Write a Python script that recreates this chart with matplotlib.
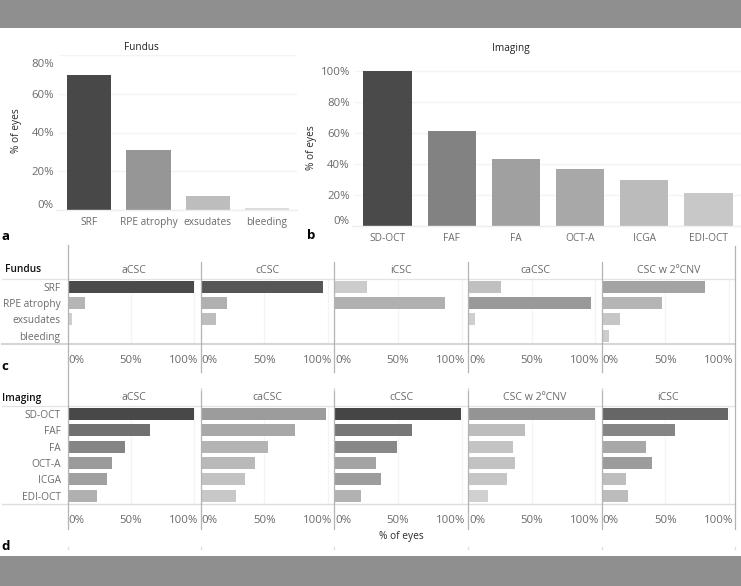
import matplotlib
matplotlib.use("Agg")
import matplotlib.pyplot as plt
from matplotlib.lines import Line2D
from matplotlib.patches import Rectangle
from matplotlib.transforms import Affine2D

plt.rcParams['font.family'] = ['Open Sans', 'DejaVu Sans']

# ---------- data ----------
fundus_cats = ['SRF', 'RPE atrophy', 'exsudates', 'bleeding']
fundus_vals = [69.5, 31, 7.2, 1.0]
imaging_cats = ['SD-OCT', 'FAF', 'FA', 'OCT-A', 'ICGA', 'EDI-OCT']
imaging_vals = [100, 61, 43, 37, 30, 21]

c_facets = ['aCSC', 'cCSC', 'iCSC', 'caCSC', 'CSC w 2ºCNV']
c_aCSC = [100, 13.6, 3.4, 0]
c_cCSC = [96, 20.5, 12, 1]
c_iCSC = [25.5, 87, 0, 0]
c_caCSC = [26, 96.4, 5, 0]
c_CNV = [81.4, 47.8, 14.7, 6]
c_values = [c_aCSC, c_cCSC, c_iCSC, c_caCSC, c_CNV]

d_facets = ['aCSC', 'caCSC', 'cCSC', 'CSC w 2ºCNV', 'iCSC']
d_aCSC = [100, 65, 45, 35, 31, 23]
d_caCSC = [98.5, 74.5, 52.5, 43, 34.5, 28]
d_cCSC = [99.5, 61, 49, 33, 37, 21]
d_CNV = [100, 44.5, 35, 37, 30.5, 15.5]
d_iCSC = [99.5, 57.5, 35, 40, 19, 20.5]
d_values = [d_aCSC, d_caCSC, d_cCSC, d_CNV, d_iCSC]

# ---------- styles ----------
a_colors = ['#484848', '#969696', '#bdbdbd', '#dcdcdc']
b_colors = ['#4a4a4a', '#828282', '#a0a0a0', '#a8a8a8', '#bbbbbb', '#c8c8c8']
c_colors = [
    ['#4a4a4a', '#b5b5b5', '#cfcfcf', '#ffffff'],
    ['#565656', '#b0b0b0', '#bdbdbd', '#c8c8c8'],
    ['#cccccc', '#b0b0b0', '#ffffff', '#ffffff'],
    ['#c0c0c0', '#999999', '#cfcfcf', '#ffffff'],
    ['#a3a3a3', '#b5b5b5', '#c6c6c6', '#cccccc'],
]
d_colors = [
    ['#484848', '#707070', '#858585', '#9a9a9a', '#a0a0a0', '#b0b0b0'],
    ['#9c9c9c', '#a8a8a8', '#b4b4b4', '#b9b9b9', '#c2c2c2', '#c8c8c8'],
    ['#454545', '#777777', '#888888', '#a3a3a3', '#9d9d9d', '#b2b2b2'],
    ['#949494', '#bdbdbd', '#c4c4c4', '#c2c2c2', '#c6c6c6', '#d0d0d0'],
    ['#666666', '#858585', '#a8a8a8', '#9c9c9c', '#bebebe', '#bcbcbc'],
]
TXT = '#6a6a6a'
DARK = '#2a2a2a'
GRID = '#f4f4f4'
RULE = '#dcdcdc'
VLINE = '#b4b4b4'
FS = 7.3
NUM_FS = 8.2

W, H = 741, 586
fig = plt.figure(figsize=(W / 100, H / 100), dpi=100, facecolor='white')


def px_axes(x0, y0, x1, y1):
    ax = fig.add_axes([x0 / W, 1 - y1 / H, (x1 - x0) / W, (y1 - y0) / H])
    ax.set_facecolor('none')
    for s in ax.spines.values():
        s.set_visible(False)
    ax.tick_params(length=0, colors=TXT, labelsize=FS)
    ax.set_axisbelow(True)
    return ax


def shift(label, dx=0, dy=0):
    label.set_transform(label.get_transform() + Affine2D().translate(dx, dy))


def hline(x0, x1, y, color=RULE, lw=1.0):
    fig.add_artist(Line2D([x0 / W, x1 / W], [1 - y / H, 1 - y / H], color=color, lw=lw,
                          transform=fig.transFigure))


def vline(x, y0, y1, color=VLINE, lw=0.9):
    fig.add_artist(Line2D([x / W, x / W], [1 - y0 / H, 1 - y1 / H], color=color, lw=lw,
                          transform=fig.transFigure))


def ftext(x, y, s, **kw):
    fig.text(x / W, 1 - y / H, s, va='center', **kw)


# grey bands
for y0, y1 in [(0, 28), (556, 586)]:
    fig.add_artist(Rectangle((0, 1 - y1 / H), 1, (y1 - y0) / H, color='#8f8f8f', lw=0,
                             transform=fig.transFigure))


def column_panel(box, cats, vals, colors, ylim, yticks, yshift, title, title_y, title_x, ylab_x, ylab_y, grid_x):
    ax = px_axes(*box)
    xs = list(range(len(cats)))
    ax.bar(xs, vals, width=0.75, color=colors, zorder=3)
    ax.set_xlim(-0.5, len(cats) - 0.5)
    ax.set_ylim(0, ylim)
    ax.set_xticks(xs)
    ax.set_xticklabels(cats)
    ax.set_yticks(yticks)
    ax.set_yticklabels([f'{t}%' for t in yticks])
    ax.tick_params(axis='x', pad=5)
    ax.tick_params(axis='y', pad=4, labelsize=NUM_FS)
    ax.yaxis.grid(True, color=GRID, lw=1.0, zorder=0)
    for lab, dy in zip(ax.get_yticklabels(), yshift):
        shift(lab, 0, dy)
    hline(grid_x, box[2], box[3], color='#eeeeee', lw=1.0)
    ftext(title_x, title_y, title, ha='center', fontsize=FS, color='#222222')
    ftext(ylab_x, ylab_y, '% of eyes', ha='center', rotation=90, fontsize=FS, color=DARK)
    return ax


column_panel((59.5, 55, 296.7, 210), fundus_cats, fundus_vals, a_colors, 80,
             [0, 20, 40, 60, 80], [6, 0, 0, 0, -8], 'Fundus', 47.5, 141, 16, 131, 56)
column_panel((355.4, 58, 740.6, 226), imaging_cats, imaging_vals, b_colors, 108.4,
             [0, 20, 40, 60, 80, 100], [6, 0, 0, 0, 0, 0], 'Imaging', 48.5, 511, 311.5, 148, 352)

edges = [67.5, 200.7, 334.3, 468.2, 601.6, 735.2]


def facet_panel(top, bottom, cats, facets, values, colors):
    n = len(cats)
    for i, (name, vals, cols) in enumerate(zip(facets, values, colors)):
        ax = px_axes(edges[i], top, edges[i + 1], bottom)
        ax.barh(range(n), vals, height=0.73, color=cols, zorder=3)
        ax.set_ylim(n - 0.5, -0.5)
        ax.set_xlim(0, 105)
        ax.set_xticks([0, 50, 100])
        ax.set_xticklabels(['0%', '50%', '100%'])
        ax.xaxis.grid(True, color=GRID, lw=0.9, zorder=0)
        ax.tick_params(axis='x', pad=8, labelsize=NUM_FS)
        labs = ax.get_xticklabels()
        labs[0].set_ha('left')
        shift(labs[0], 1.0, 0)
        labs[2].set_ha('right')
        shift(labs[2], 4, 0)
        ax.set_title(name, fontsize=FS + 0.3, color=TXT, pad=4)
        if i == 0:
            ax.set_yticks(range(n))
            ax.set_yticklabels(cats)
            ax.tick_params(axis='y', pad=5)
        else:
            ax.set_yticks([])


facet_panel(278.5, 344, fundus_cats, c_facets, c_values, c_colors)
facet_panel(405.7, 504, imaging_cats, d_facets, d_values, d_colors)

hline(2, 735, 278.5, color='#e3e3e3', lw=0.9)
hline(2, 735, 344.3, color='#d6d6d6', lw=1.5)
hline(2, 735, 405.7, color='#e3e3e3', lw=0.9)
hline(2, 735, 504, color='#dcdcdc', lw=1.0)

vline(edges[0], 245, 529)
vline(edges[5], 246, 529)
for x in edges[1:5]:
    vline(x, 262, 372)
    vline(x, 389, 529)
    vline(x, 388, 390, color='#dddddd')
for x in edges:
    vline(x, 547, 549, color='#dddddd')

ftext(5, 270, 'Fundus', ha='left', fontsize=FS, color='#111111', fontweight='semibold')
ftext(2, 398, 'Imaging', ha='left', fontsize=FS, color='#111111', fontweight='semibold')
ftext(401, 536, '% of eyes', ha='center', fontsize=FS, color=DARK)

for x, y, s in [(1, 237, 'a'), (307, 235, 'b'), (1, 366, 'c'), (1, 547, 'd')]:
    ftext(x, y, s, ha='left', fontsize=9.5, fontweight='bold', color='#000000')

fig.savefig('out.png', dpi=100, facecolor='white')
